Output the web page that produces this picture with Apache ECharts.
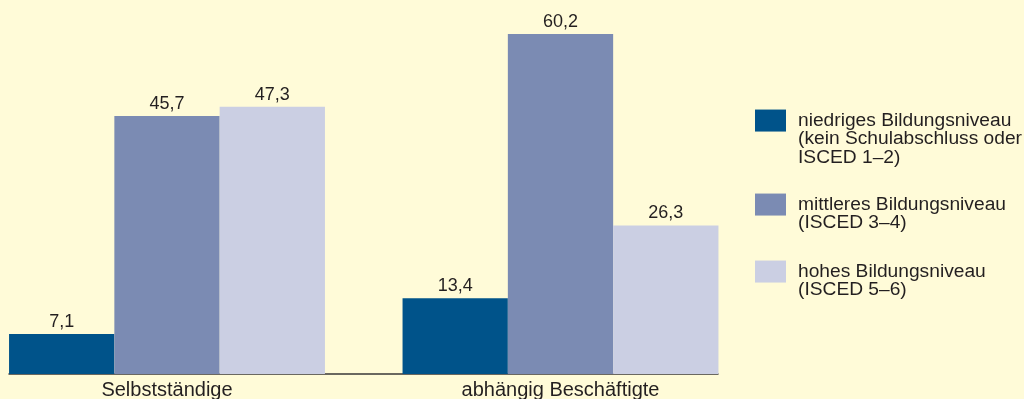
<!DOCTYPE html>
<html>
<head>
<meta charset="utf-8">
<script src="https://cdn.jsdelivr.net/npm/echarts@6/dist/echarts.min.js"></script>
<style>
  html, body { margin: 0; padding: 0; background: #FFFBD8; }
  #chart { width: 1024px; height: 399px; }
</style>
</head>
<body>
<div id="chart"></div>
<script>
// Erwerbsstatus nach Bildungsniveau (Anteile in %)
const categories = ['Selbstständige', 'abhängig Beschäftigte'];
const seriesNames = [
  'niedriges Bildungsniveau\n(kein Schulabschluss oder\nISCED 1–2)',
  'mittleres Bildungsniveau\n(ISCED 3–4)',
  'hohes Bildungsniveau\n(ISCED 5–6)'
];
const niedrig = [7.1, 13.4];
const mittel = [45.7, 60.2];
const hoch = [47.3, 26.3];
const colors = ['#00538A', '#7B8BB3', '#CBCFE3'];

const textColor = '#231F20';
const fontFamily = 'Liberation Sans, Arial, Helvetica, sans-serif';

const values = [niedrig, mittel, hoch];

const series = values.map((vals, i) => ({
  name: seriesNames[i],
  type: 'bar',
  xAxisIndex: 0,
  yAxisIndex: 0,
  data: vals,
  barWidth: 105.3,
  barGap: '0%',
  itemStyle: { color: colors[i] },
  label: {
    show: true,
    position: 'top',
    distance: 3,
    color: textColor,
    fontFamily: fontFamily,
    fontSize: 18,
    formatter: p => String(p.value).replace('.', ',')
  }
}));

// One legend block per series. Blank lines are put in front of each name so
// that the first text line sits level with the colour square.
const legendLineHeight = 18.5;
const legendIconTop = [109.3, 193.3, 260.3];
const legends = seriesNames.map((name, i) => {
  const lines = name.split('\n').length;
  const total = 2 * lines - 1;
  return {
    orient: 'vertical',
    left: 755,
    top: legendIconTop[i] + 11 - (total * legendLineHeight) / 2,
    padding: 0,
    itemWidth: 31,
    itemHeight: 22,
    itemGap: 11,
    icon: 'rect',
    selectedMode: false,
    data: [{ name: name }],
    formatter: n => '\n'.repeat(lines - 1) + n,
    textStyle: {
      color: textColor,
      fontFamily: fontFamily,
      fontSize: 19.2,
      lineHeight: legendLineHeight,
      padding: [0, 0, 0, 7]
    }
  };
});

const chart = echarts.init(document.getElementById('chart'), null, { renderer: 'canvas' });
chart.setOption({
  backgroundColor: '#FFFBD8',
  animation: false,
  legend: legends,
  grid: [
    { left: -29.75, right: 266.75, top: 6.9, bottom: 25, outerBoundsMode: 'none' },
    { left: 9, right: 306, top: 6.9, bottom: 25, outerBoundsMode: 'none' }
  ],
  xAxis: [
    {
      type: 'category',
      gridIndex: 0,
      data: categories,
      axisLine: { show: false },
      axisTick: { show: false },
      axisLabel: {
        color: textColor,
        fontFamily: fontFamily,
        fontSize: 20,
        margin: 6
      }
    },
    {
      type: 'category',
      gridIndex: 1,
      data: categories,
      axisLine: { show: true, lineStyle: { color: '#3A3838', width: 1.5 } },
      axisTick: { show: false },
      axisLabel: { show: false }
    }
  ],
  yAxis: [
    { type: 'value', gridIndex: 0, min: 0, max: 65, show: false },
    { type: 'value', gridIndex: 1, min: 0, max: 65, show: false }
  ],
  series: series
});
</script>
</body>
</html>
